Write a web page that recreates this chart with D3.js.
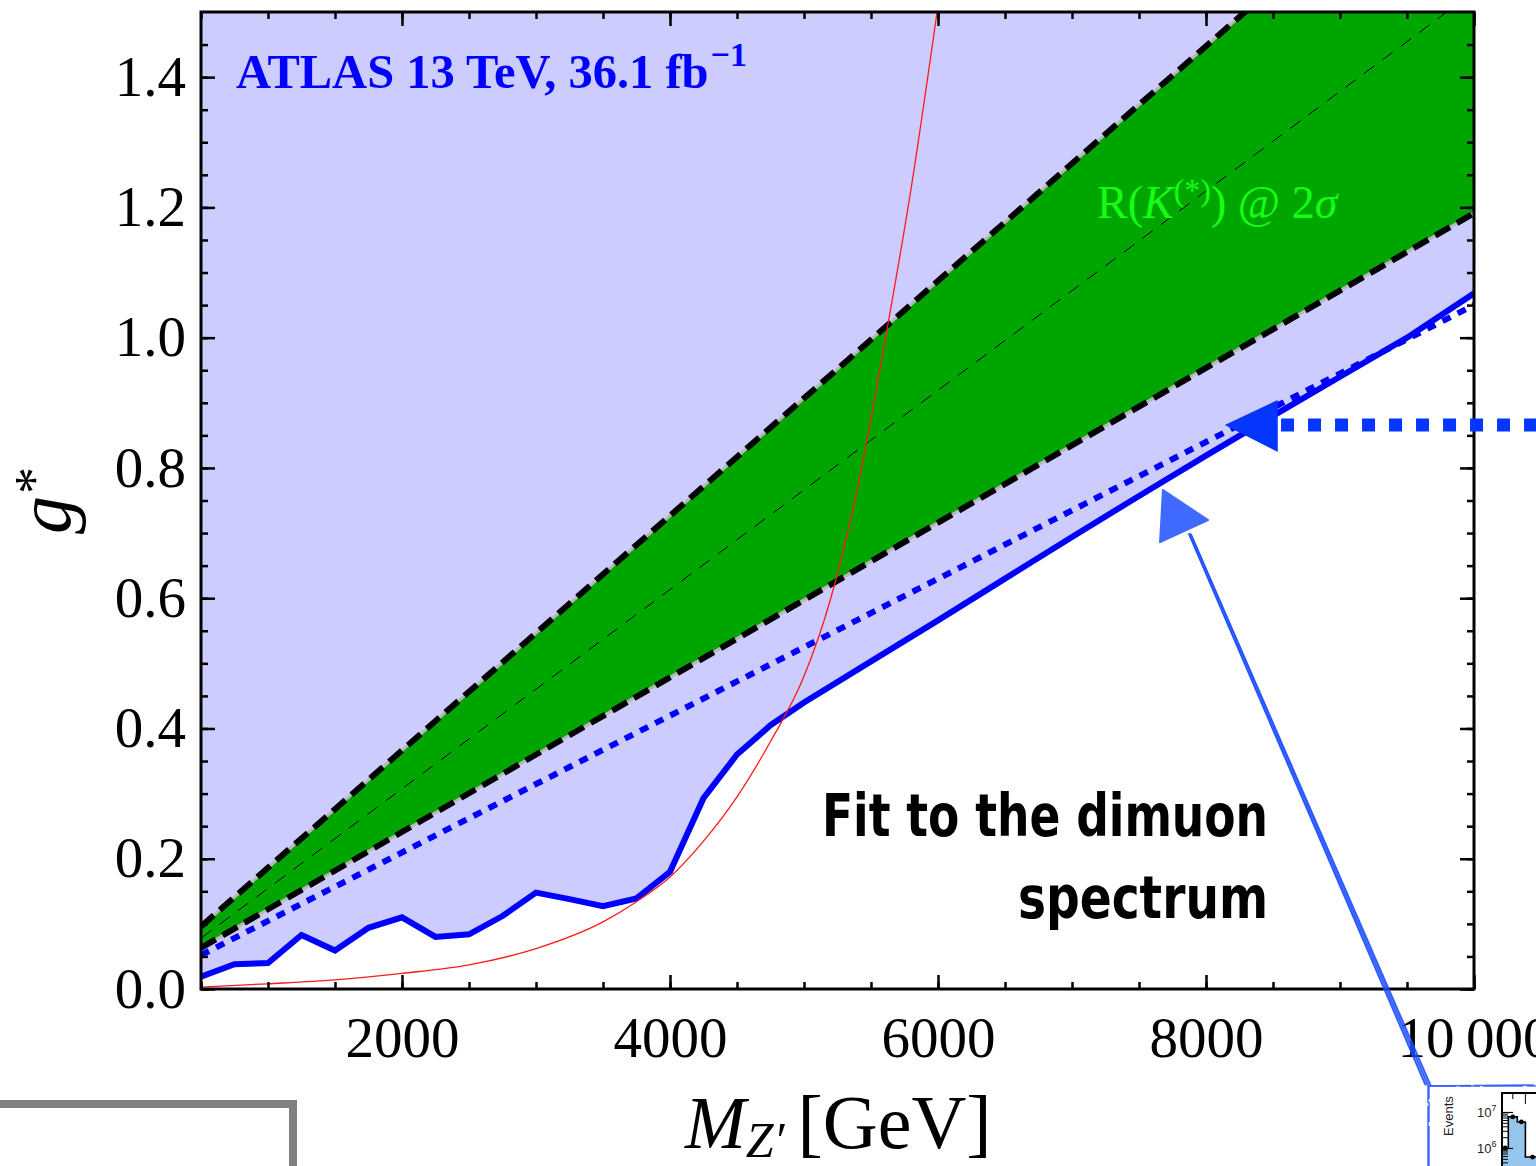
<!DOCTYPE html>
<html>
<head>
<meta charset="utf-8">
<script src="https://d3js.org/d3.v7.min.js"></script>
<style>
  body { margin: 0; background: #fff; }
  svg { display: block; }
</style>
</head>
<body>
<svg id="chart" width="1536" height="1166"></svg>
<script>
// observed ATLAS limit (solid blue), g* vs M_Z' [GeV]
const obsMass = [500, 750, 1000, 1250, 1500, 1750, 2000, 2250, 2500, 2750, 3000, 3250, 3500, 3750,
                 4000, 4250, 4500, 4750, 5000, 5500, 6000, 6500, 7000, 7500, 8000, 8500, 9000, 9500, 10000];
const obsG = [0.019, 0.038, 0.040, 0.083, 0.059, 0.094, 0.110, 0.080, 0.084, 0.112, 0.148, 0.138, 0.127, 0.139,
              0.180, 0.293, 0.360, 0.405, 0.440, 0.503, 0.566, 0.630, 0.694, 0.757, 0.819, 0.880, 0.940, 1.000, 1.068];

// fit to the dimuon spectrum (dotted blue)
const fitMass = [500, 10000];
const fitG = [0.052, 1.05];

// R(K(*)) @ 2 sigma band
const bandMass = [500, 10000];
const bandUpper = [0.096, 1.808];
const bandCenter = [0.078, 1.531];
const bandLower = [0.063, 1.191];

// thin red curve
const redMass = [500, 1000, 1500, 2000, 2500, 3000, 3500, 3750, 4000, 4250, 4500, 4750, 5000, 5200, 5400, 5600, 5800, 6000];
const redG = [0.003, 0.008, 0.014, 0.024, 0.037, 0.062, 0.103, 0.134, 0.172, 0.227, 0.295, 0.380, 0.480, 0.600, 0.770, 0.990, 1.230, 1.510];

// ticks
const xMajor = [2000, 4000, 6000, 8000, 10000];
const yMajor = [0, 0.2, 0.4, 0.6, 0.8, 1.0, 1.2, 1.4];

// small histogram inset (bottom right)
const insetEdges = [0, 0.7, 1.7, 2.6, 4.2];
const insetCounts = [1.0e6, 7.3e6, 5.3e6, 5.6e5];

const svg = d3.select("#chart");
const x = d3.scaleLinear().domain([500, 10000]).range([201, 1474]);
const y = d3.scaleLinear().domain([0, 1.5]).range([989, 12]);
const serif = "'Liberation Serif', 'Times New Roman', serif";

svg.append("clipPath").attr("id", "plotclip")
   .append("rect").attr("x", 201).attr("y", 12).attr("width", 1273).attr("height", 977);

const plot = svg.append("g").attr("clip-path", "url(#plotclip)");

const obs = obsMass.map((m, i) => ({m: m, g: obsG[i]}));
const fit = fitMass.map((m, i) => ({m: m, g: fitG[i]}));
const band = bandMass.map((m, i) => ({m: m, u: bandUpper[i], c: bandCenter[i], l: bandLower[i]}));
const red = redMass.map((m, i) => ({m: m, g: redG[i]}));

// excluded region above the observed limit
plot.append("path").datum(obs)
    .attr("fill", "#ccccff")
    .attr("d", d3.area().x(d => x(d.m)).y0(y(1.5)).y1(d => y(d.g)));

// green band
plot.append("path").datum(band)
    .attr("fill", "#00a600")
    .attr("d", d3.area().x(d => x(d.m)).y0(d => y(d.l)).y1(d => y(d.u)));

plot.append("path").datum(band)
    .attr("fill", "none").attr("stroke", "black").attr("stroke-width", 1)
    .attr("stroke-dasharray", "13,10")
    .attr("d", d3.line().x(d => x(d.m)).y(d => y(d.c)));

["u", "l"].forEach(k => {
    const edge = d3.line().x(d => x(d.m)).y(d => y(d[k]));
    plot.append("path").datum(band)
        .attr("fill", "none").attr("stroke", "#b8b8b8").attr("stroke-width", 3)
        .attr("d", edge);
    plot.append("path").datum(band)
        .attr("fill", "none").attr("stroke", "black").attr("stroke-width", 6)
        .attr("stroke-dasharray", "17,8")
        .attr("d", edge);
});

// dotted fit line
plot.append("path").datum(fit)
    .attr("fill", "none").attr("stroke", "#0000ff").attr("stroke-width", 6)
    .attr("stroke-dasharray", "9,8")
    .attr("d", d3.line().x(d => x(d.m)).y(d => y(d.g)));

// observed limit
plot.append("path").datum(obs)
    .attr("fill", "none").attr("stroke", "#0000ff").attr("stroke-width", 6)
    .attr("stroke-linejoin", "miter")
    .attr("d", d3.line().x(d => x(d.m)).y(d => y(d.g)));

// red curve
plot.append("path").datum(red)
    .attr("fill", "none").attr("stroke", "#ff1a1a").attr("stroke-width", 1.3)
    .attr("d", d3.line().curve(d3.curveMonotoneX).x(d => x(d.m)).y(d => y(d.g)));

// axes (ticks inside the frame)
function styleAxis(g) {
    g.select(".domain").remove();
    g.selectAll("line").attr("stroke", "black").attr("stroke-width", 2.5);
    g.selectAll("text").attr("font-family", serif).attr("font-size", 57).attr("fill", "black");
}
const fmtX = d => d === 10000 ? "10\u2009000" : String(d);

svg.append("g").attr("transform", "translate(0,989)")
   .call(d3.axisBottom(x).tickValues(xMajor).tickFormat(fmtX).tickSizeInner(-14).tickSizeOuter(0).tickPadding(28))
   .call(styleAxis);
svg.append("g").attr("transform", "translate(0,989)")
   .call(d3.axisBottom(x).tickValues(d3.range(500, 10001, 500)).tickFormat("").tickSizeInner(-7).tickSizeOuter(0))
   .call(styleAxis);
svg.append("g").attr("transform", "translate(0,12)")
   .call(d3.axisTop(x).tickValues(xMajor).tickFormat("").tickSizeInner(-14).tickSizeOuter(0))
   .call(styleAxis);
svg.append("g").attr("transform", "translate(0,12)")
   .call(d3.axisTop(x).tickValues(d3.range(500, 10001, 500)).tickFormat("").tickSizeInner(-7).tickSizeOuter(0))
   .call(styleAxis);

svg.append("g").attr("transform", "translate(201,0)")
   .call(d3.axisLeft(y).tickValues(yMajor).tickFormat(d3.format(".1f")).tickSizeInner(-14).tickSizeOuter(0).tickPadding(15))
   .call(styleAxis);
svg.append("g").attr("transform", "translate(201,0)")
   .call(d3.axisLeft(y).tickValues(d3.range(0, 1.5, 0.05)).tickFormat("").tickSizeInner(-7).tickSizeOuter(0))
   .call(styleAxis);
svg.append("g").attr("transform", "translate(1474,0)")
   .call(d3.axisRight(y).tickValues(yMajor).tickFormat("").tickSizeInner(-14).tickSizeOuter(0))
   .call(styleAxis);
svg.append("g").attr("transform", "translate(1474,0)")
   .call(d3.axisRight(y).tickValues(d3.range(0, 1.5, 0.05)).tickFormat("").tickSizeInner(-7).tickSizeOuter(0))
   .call(styleAxis);

// frame
svg.append("rect").attr("x", 201).attr("y", 12).attr("width", 1273).attr("height", 977)
   .attr("fill", "none").attr("stroke", "black").attr("stroke-width", 3);

// axis titles
const xt = svg.append("text").attr("x", 685).attr("y", 1148)
   .attr("font-family", serif).attr("font-size", 73).attr("fill", "black");
xt.append("tspan").attr("font-style", "italic").text("M");
xt.append("tspan").attr("font-style", "italic").attr("font-size", 50).attr("dy", 9).text("Z\u2032");
xt.append("tspan").attr("font-size", 76).attr("dy", -9).attr("dx", -6).text(" [GeV]");

const yt = svg.append("text").attr("transform", "translate(70,534) rotate(-90)")
   .attr("font-family", serif).attr("font-size", 76).attr("fill", "black");
yt.append("tspan").attr("font-style", "italic").text("g");
yt.append("tspan").attr("font-size", 54).attr("dx", 2).attr("dy", -18).text("*");

// labels inside the plot
const atlas = svg.append("text").attr("x", 236).attr("y", 88)
   .attr("font-family", serif).attr("font-weight", "bold").attr("font-size", 48.5).attr("fill", "#0000ff");
atlas.append("tspan").text("ATLAS 13 TeV, 36.1 fb");
atlas.append("tspan").attr("font-size", 34).attr("dx", 2).attr("dy", -22).text("\u22121");

const rk = svg.append("text").attr("x", 1097).attr("y", 218)
   .attr("font-family", serif).attr("font-size", 46).attr("fill", "#14ff14");
rk.append("tspan").text("R(");
rk.append("tspan").attr("font-style", "italic").text("K");
rk.append("tspan").attr("font-size", 32).attr("dy", -17).text("(*)");
rk.append("tspan").attr("dy", 17).text(") @ 2");
rk.append("tspan").attr("font-style", "italic").text("\u03c3");

const cond = "'DejaVu Sans Condensed', 'DejaVu Sans', sans-serif";
svg.append("text").attr("x", 822).attr("y", 836)
   .attr("font-family", cond).attr("font-weight", "bold").attr("font-size", 59)
   .attr("textLength", 446).attr("lengthAdjust", "spacingAndGlyphs")
   .text("Fit to the dimuon");
svg.append("text").attr("x", 1018).attr("y", 918)
   .attr("font-family", cond).attr("font-weight", "bold").attr("font-size", 59)
   .attr("textLength", 250).attr("lengthAdjust", "spacingAndGlyphs")
   .text("spectrum");

// dotted arrow from the right edge
const arrowBlue = "#0536ff";
const tipX = x(8140), tipY = y(0.866);
svg.append("line").attr("x1", x(8560)).attr("x2", 1536).attr("y1", tipY).attr("y2", tipY)
   .attr("stroke", arrowBlue).attr("stroke-width", 13).attr("stroke-dasharray", "13,14");
svg.append("path")
   .attr("d", `M${tipX},${tipY} L${tipX + 53},${tipY - 25} L${tipX + 53},${tipY + 27} Z`)
   .attr("fill", arrowBlue);

// hand-drawn arrow from the inset
const sketchBlue = "#1f50ff";
const sFrom = [x(9657), y(-0.147)], sTo = [x(7880), y(0.700)];
[-3, -1.8, -0.6, 0.6, 1.8, 3].forEach((o, i) => {
    svg.append("line")
       .attr("x1", sFrom[0] + o).attr("y1", sFrom[1] + (i % 2))
       .attr("x2", sTo[0] + o * 0.5).attr("y2", sTo[1] + (i % 3))
       .attr("stroke", sketchBlue).attr("stroke-width", 1.5).attr("opacity", 0.8);
});
const head = [[7679, 0.766], [7657, 0.686], [8015, 0.720]].map(p => [x(p[0]), y(p[1])]);
svg.append("path").attr("d", "M" + head.join("L") + "Z")
   .attr("fill", sketchBlue).attr("stroke", sketchBlue).attr("stroke-width", 2)
   .attr("stroke-linejoin", "round").attr("opacity", 0.85);

// gray box bottom-left
svg.append("path").attr("d", "M0,1104 L293,1104 L293,1166")
   .attr("fill", "none").attr("stroke", "#808080").attr("stroke-width", 8);

// inset: sketchy border
[[0, 0], [1, 1]].forEach(o => {
    svg.append("path").attr("d", `M${1428 + o[0]},1166 L${1428 + o[1]},1086 L1536,${1085 + o[0]}`)
       .attr("fill", "none").attr("stroke", sketchBlue).attr("stroke-width", 1.6)
       .attr("stroke-dasharray", o[0] ? "40,4,20,3" : "60,3").attr("opacity", 0.8);
});

// inset histogram
const ix = d3.scaleLinear().domain([0, 4]).range([1502, 1538]);
const iy = d3.scaleLog().domain([1e5, 1e7]).range([1184, 1112]);
const steps = [];
insetCounts.forEach((c, i) => { steps.push([ix(insetEdges[i]), iy(c)]); steps.push([ix(insetEdges[i + 1]), iy(c)]); });
svg.append("path")
   .attr("d", `M${ix(0)},1166 L` + steps.join("L") + `L${ix(4.2)},1166 Z`)
   .attr("fill", "#95c6ee");
svg.append("path").attr("d", "M" + steps.join("L"))
   .attr("fill", "none").attr("stroke", "black").attr("stroke-width", 1.6);
svg.selectAll("circle.pt").data(insetCounts).join("circle").attr("class", "pt")
   .attr("cx", (d, i) => ix((insetEdges[i] + insetEdges[i + 1]) / 2)).attr("cy", d => iy(d))
   .attr("r", 2.4).attr("fill", "black");

const ia = svg.append("g").attr("transform", `translate(${ix(0)},0)`)
   .call(d3.axisLeft(iy).tickValues([2e5, 3e5, 4e5, 5e5, 6e5, 7e5, 8e5, 9e5, 2e6, 3e6, 4e6, 5e6, 6e6, 7e6, 8e6, 9e6])
        .tickFormat("").tickSizeInner(-6).tickSizeOuter(0));
ia.select(".domain").remove();
ia.selectAll("line").attr("stroke", "black").attr("stroke-width", 1);
const ib = svg.append("g").attr("transform", `translate(${ix(0)},0)`)
   .call(d3.axisLeft(iy).tickValues([1e6, 1e7]).tickFormat("").tickSizeInner(-11).tickSizeOuter(0));
ib.select(".domain").remove();
ib.selectAll("line").attr("stroke", "black").attr("stroke-width", 1.2);
svg.append("path").attr("d", `M${ix(0)},1166 L${ix(0)},1093 L1536,1093`)
   .attr("fill", "none").attr("stroke", "black").attr("stroke-width", 2);
[1.2, 2.6].forEach(v => {
    svg.append("line").attr("x1", ix(v)).attr("x2", ix(v)).attr("y1", 1093).attr("y2", v > 2 ? 1104 : 1099)
       .attr("stroke", "black").attr("stroke-width", 1);
});
[[1e7, "7"], [1e6, "6"]].forEach(t => {
    const lbl = svg.append("text").attr("x", 1477).attr("y", iy(t[0]) + 5)
       .attr("font-family", "'Liberation Sans', Arial, sans-serif").attr("font-size", 13).attr("fill", "#222");
    lbl.append("tspan").text("10");
    lbl.append("tspan").attr("font-size", 9).attr("dy", -6).text(t[1]);
});
svg.append("text").attr("transform", "translate(1453,1116) rotate(-90)")
   .attr("text-anchor", "middle")
   .attr("font-family", "'Liberation Sans', Arial, sans-serif").attr("font-size", 13).attr("fill", "#222")
   .text("Events");
</script>
</body>
</html>
